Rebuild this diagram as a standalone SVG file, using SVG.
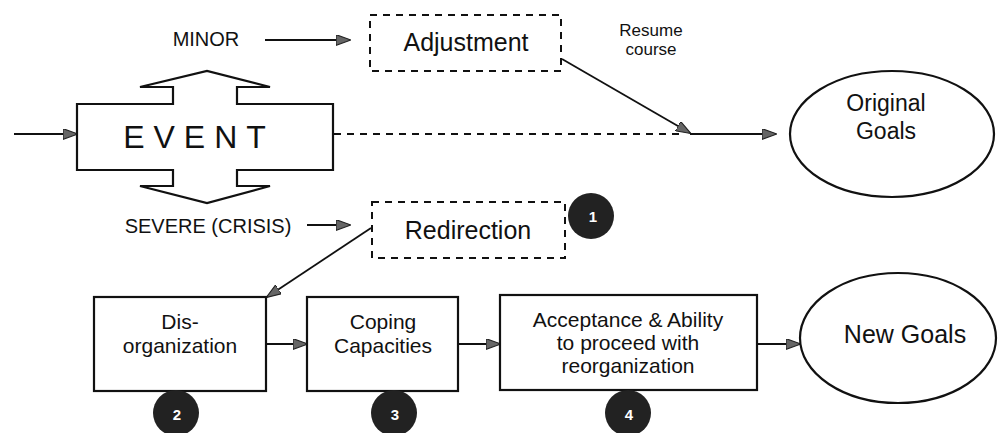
<svg xmlns="http://www.w3.org/2000/svg" width="998" height="433" viewBox="0 0 998 433">
<defs>
<marker id="ah" viewBox="0 0 14 10" refX="13" refY="5" markerWidth="15" markerHeight="11" markerUnits="userSpaceOnUse" orient="auto">
<path d="M0,0 L14,5 L0,10 Z" fill="#666" stroke="#222" stroke-width="1"/>
</marker>
</defs>
<style>
text{font-family:"Liberation Sans",Arial,sans-serif;fill:#111;text-anchor:middle}
.box{fill:#fff;stroke:#111;stroke-width:2.2}
.dash{fill:#fff;stroke:#111;stroke-width:2;stroke-dasharray:7 6}
.ln{fill:none;stroke:#111;stroke-width:1.8}
.dl{fill:none;stroke:#111;stroke-width:1.8;stroke-dasharray:7 6}
.lbl{font-size:20px}
.big{font-size:25px}
.mid{font-size:21px}
.badge{fill:#222}
.bn{font-size:15px;font-weight:bold;fill:#fff}
</style>
<g id="connectors">
<line class="ln" x1="14" y1="134" x2="77" y2="134" marker-end="url(#ah)"/>
<line class="ln" x1="265" y1="40" x2="350" y2="40" marker-end="url(#ah)"/>
<line class="ln" x1="307" y1="225" x2="350" y2="225" marker-end="url(#ah)"/>
<line class="dl" x1="334" y1="134" x2="680" y2="134"/>
<line class="ln" x1="562" y1="59" x2="690" y2="133" marker-end="url(#ah)"/>
<line class="ln" x1="690" y1="134" x2="776" y2="134" marker-end="url(#ah)"/>
<line class="ln" x1="371" y1="228" x2="267" y2="297" marker-end="url(#ah)"/>
<line class="ln" x1="266" y1="344" x2="307" y2="344" marker-end="url(#ah)"/>
<line class="ln" x1="458" y1="344" x2="500" y2="344" marker-end="url(#ah)"/>
<line class="ln" x1="757" y1="344" x2="800" y2="344" marker-end="url(#ah)"/>
</g>
<g id="event">
<path class="box" d="M77,104 L173,104 L173,87 L140,87 L207,71 L270,87 L237,87 L237,104 L333,104 L333,170 L237,170 L237,186 L270,186 L207,203 L140,186 L173,186 L173,170 L77,170 Z"/>
<text x="199" y="148" style="font-size:32px;letter-spacing:9px">EVENT</text>
</g>
<g id="minor"><text class="lbl" x="206" y="46">MINOR</text></g>
<g id="severe"><text class="lbl" x="208" y="233">SEVERE (CRISIS)</text></g>
<g id="adjustment">
<rect class="dash" x="370" y="15" width="191" height="56"/>
<text class="big" x="466" y="51">Adjustment</text>
</g>
<g id="resume"><text x="651" y="36" style="font-size:17px">Resume</text><text x="651" y="55" style="font-size:17px">course</text></g>
<g id="original-goals">
<ellipse class="box" cx="892" cy="134" rx="102" ry="63"/>
<text x="886" y="111" style="font-size:23px">Original</text>
<text x="886" y="139" style="font-size:23px">Goals</text>
</g>
<g id="redirection">
<rect class="dash" x="372" y="202" width="193" height="56"/>
<text class="big" x="468" y="239">Redirection</text>
</g>
<g id="badge1"><circle class="badge" cx="591" cy="216" r="23"/><text class="bn" x="593" y="222">1</text></g>
<g id="disorganization">
<rect class="box" x="94" y="297" width="172" height="94"/>
<text class="mid" x="180" y="329">Dis-</text>
<text class="mid" x="180" y="353">organization</text>
</g>
<g id="coping">
<rect class="box" x="307" y="297" width="151" height="94"/>
<text class="mid" x="383" y="329">Coping</text>
<text class="mid" x="383" y="353">Capacities</text>
</g>
<g id="acceptance">
<rect class="box" x="500" y="295" width="257" height="95"/>
<text class="mid" x="628" y="327">Acceptance &amp; Ability</text>
<text class="mid" x="628" y="350">to proceed with</text>
<text class="mid" x="628" y="373">reorganization</text>
</g>
<g id="new-goals">
<ellipse class="box" cx="898" cy="338" rx="98" ry="65"/>
<text class="big" x="905" y="343">New Goals</text>
</g>
<g id="badge2"><circle class="badge" cx="176" cy="413" r="23"/><text class="bn" x="177" y="420">2</text></g>
<g id="badge3"><circle class="badge" cx="394" cy="413" r="23"/><text class="bn" x="395" y="420">3</text></g>
<g id="badge4"><circle class="badge" cx="628" cy="413" r="23"/><text class="bn" x="629" y="420">4</text></g>
</svg>
